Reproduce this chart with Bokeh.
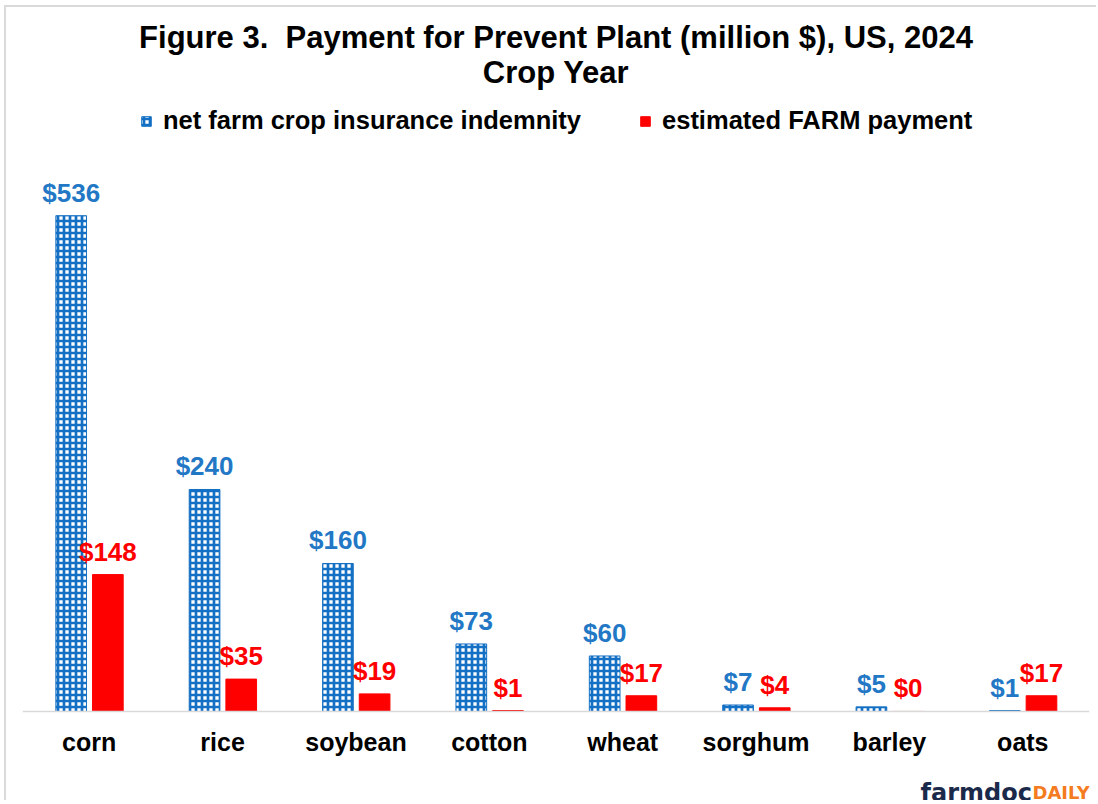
from bokeh.plotting import figure
from bokeh.models import ColumnDataSource, Label, Legend, LegendItem, FactorRange, Span, Range1d
from bokeh.transform import dodge
from bokeh.core.properties import value
from bokeh.embed import file_html
from bokeh.resources import INLINE

crops = ["corn", "rice", "soybean", "cotton", "wheat", "sorghum", "barley", "oats"]
insurance = [536, 240, 160, 73, 60, 7, 5, 1]
farm = [148, 35, 19, 1, 17, 4, 0, 17]
ins_labels = ["$" + str(v) for v in insurance]
farm_labels = ["$" + str(v) for v in farm]

BLUE = "#1470C4"
BLUE_TXT = "#2378C6"
RED = "#FF0000"
FONT = "Liberation Sans"

src = ColumnDataSource(dict(crop=crops, insurance=insurance, farm=farm,
                            ins_label=ins_labels, farm_label=farm_labels,
                            zero=[0] * len(crops)))

p = figure(x_range=FactorRange(*crops, range_padding=0), y_range=Range1d(-98.4, 760),
           width=1092, height=795, output_backend="svg", toolbar_location=None,
           x_axis_location=None, y_axis_location=None,
           min_border_left=16, min_border_right=9, min_border_top=1, min_border_bottom=0)
p.styles = {"margin-left": "4px", "margin-top": "5px",
            "border-left": "2px solid #DADADA", "border-top": "2px solid #DADADA"}

r_ins = p.vbar(x=dodge("crop", -0.135, range=p.x_range), top="insurance", width=0.23, source=src,
               fill_color="white", line_color=BLUE, line_width=1,
               hatch_pattern="cross", hatch_color=BLUE, hatch_scale=6, hatch_weight=2.7)
r_farm = p.vbar(x=dodge("crop", 0.14, range=p.x_range), top="farm", width=0.23, source=src,
                fill_color=RED, line_color=RED)

p.add_layout(Span(location=0, dimension="width", line_color="#D9D9D9", line_width=1.5))

p.text(x=dodge("crop", -0.135, range=p.x_range), y="insurance", text="ins_label", source=src,
       text_align="center", text_baseline="bottom", y_offset=-8,
       text_font=value(FONT), text_font_style="bold", text_font_size="26px", text_color=BLUE_TXT)
p.text(x=dodge("crop", 0.14, range=p.x_range), y="farm", text="farm_label", source=src,
       text_align="center", text_baseline="bottom", y_offset=-8,
       text_font=value(FONT), text_font_style="bold", text_font_size="26px", text_color=RED)

# category labels
p.text(x="crop", y="zero", text="crop", source=src, text_align="center", text_baseline="middle",
       y_offset=31, text_font=value(FONT), text_font_style="bold", text_font_size="25px",
       text_color="black")

p.xgrid.visible = False
p.ygrid.visible = False
p.outline_line_color = None

# titles
p.add_layout(Label(x=533.5, y=765, x_units="screen", y_units="screen",
                   text="Figure 3.\u00a0 Payment for Prevent Plant (million $), US, 2024",
                   text_align="center", text_baseline="middle", text_font=FONT,
                   text_font_style="bold", text_font_size="31px", text_color="black"))
p.add_layout(Label(x=533.5, y=730, x_units="screen", y_units="screen", text="Crop Year",
                   text_align="center", text_baseline="middle", text_font=FONT,
                   text_font_style="bold", text_font_size="31px", text_color="black"))

legend = Legend(items=[LegendItem(label="net farm crop insurance indemnity", renderers=[r_ins]),
                       LegendItem(label="estimated FARM payment", renderers=[r_farm])],
                location=(118, 667), orientation="horizontal", glyph_width=12, glyph_height=12,
                label_standoff=11, spacing=58, padding=0, margin=0, border_line_color=None,
                background_fill_alpha=0, label_text_font=FONT, label_text_font_style="bold",
                label_text_font_size="25.5px", label_text_color="black")
p.add_layout(legend, "center")

# logo
p.add_layout(Label(x=898, y=10, x_units="screen", y_units="screen", text="farmdoc",
                   text_align="left", text_baseline="alphabetic", text_font="DejaVu Sans",
                   text_font_style="bold", text_font_size="24px", text_color="#1B2A4A"))
p.add_layout(Label(x=1010, y=10, x_units="screen", y_units="screen", text="DAILY",
                   text_align="left", text_baseline="alphabetic", text_font="DejaVu Sans",
                   text_font_style="bold", text_font_size="18px", text_color="#F47B20"))

open("out.html", "w").write(file_html(p, INLINE))
